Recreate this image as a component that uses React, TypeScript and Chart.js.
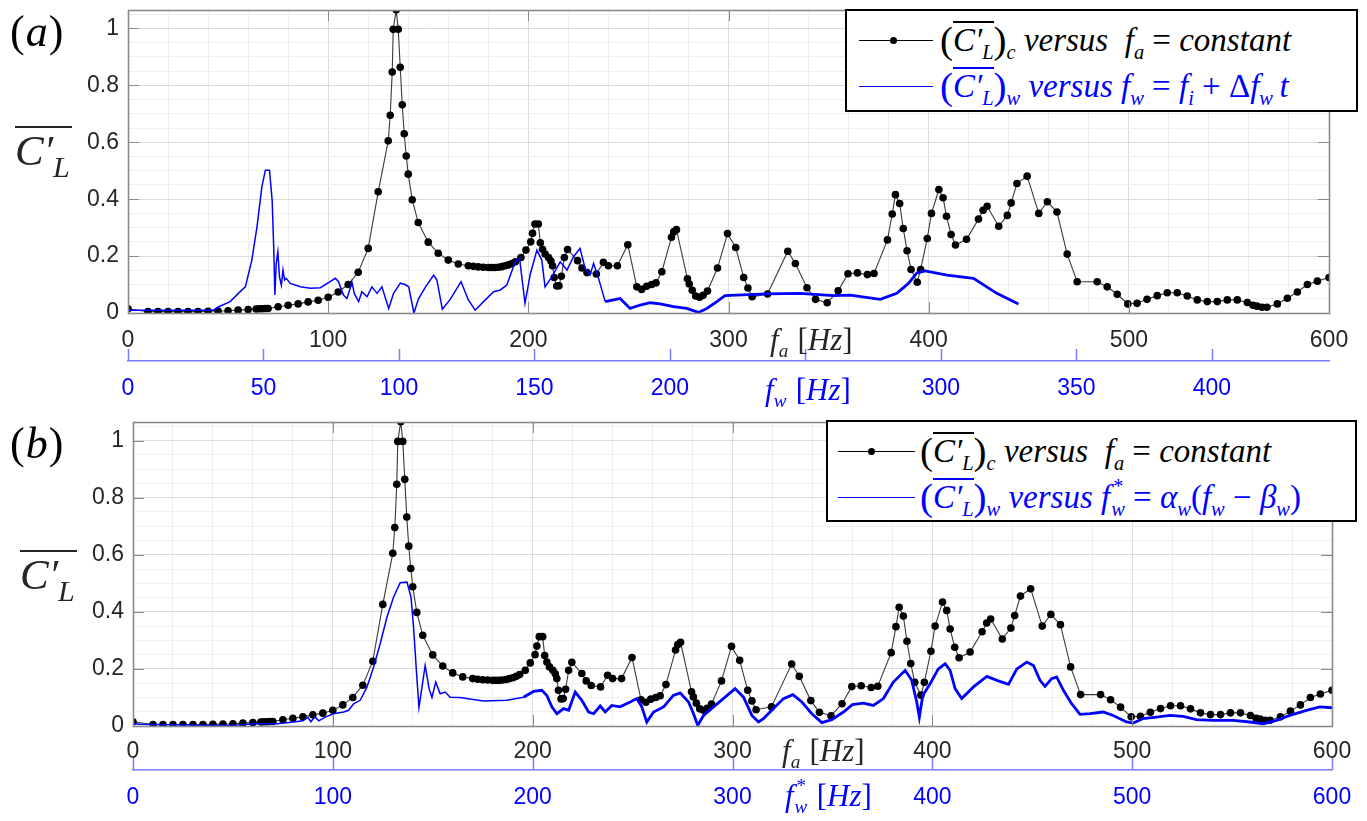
import React, { useEffect, useRef } from "react";
import { Chart, registerables } from "chart.js";
Chart.register(...registerables);

// ---- Black series: (C'_L)_c versus f_a (constant-frequency runs), same in both panels
const FA = [0, 10, 15, 20, 25, 30, 35, 40, 45, 50, 55, 60, 64, 65.5, 67, 68.5, 70, 75, 80, 85, 90, 95, 100, 105, 110, 115, 120, 125, 130, 131, 132, 132.5, 134, 135, 136, 137, 138, 139, 140, 142, 145, 150, 155, 160, 165, 170, 172.5, 175, 177.5, 180, 181.6, 183.3, 185, 186.8, 188.4, 190.1, 191.8, 193.5, 196.3, 198.8, 201.2, 202.1, 203.3, 205, 206, 207.1, 208.4, 210.1, 211.3, 212.1, 212.9, 214.2, 215.3, 216.5, 218, 219.6, 224.6, 226.8, 229.3, 234, 237.5, 240, 244.5, 249.7, 254.2, 256.6, 259.1, 261.6, 263.8, 266.7, 271.5, 272.6, 274, 279.5, 280.4, 281.9, 283.6, 285.5, 287.3, 289.5, 294.5, 299.5, 303.6, 307.6, 309.7, 311.8, 319.5, 329.6, 333.4, 339.2, 343.5, 349.3, 354.8, 359.7, 364.4, 369.4, 372.7, 379.4, 381.8, 383.4, 385.5, 387.3, 389.2, 391.2, 394.3, 396, 399.3, 401.4, 405.1, 407.2, 408.9, 411.2, 413.4, 418.9, 424.9, 427.2, 429.2, 435, 439.3, 441.2, 444.1, 449.2, 455, 459.3, 464.1, 469.2, 474.2, 484.2, 489.2, 494.2, 499.5, 504.1, 509.1, 514.2, 519.2, 524.2, 529.2, 534.2, 539.2, 544.2, 549.2, 554.2, 559.2, 562, 564, 566.5, 569, 574.2, 579.2, 584.2, 589.2, 594.2, 600];
const CL_C = [0.015, 0.005, 0.005, 0.005, 0.005, 0.005, 0.005, 0.006, 0.007, 0.008, 0.01, 0.012, 0.014, 0.015, 0.015, 0.016, 0.016, 0.022, 0.027, 0.032, 0.039, 0.045, 0.055, 0.074, 0.1, 0.143, 0.227, 0.426, 0.605, 0.695, 0.847, 0.997, 1.066, 0.997, 0.864, 0.732, 0.63, 0.552, 0.488, 0.398, 0.318, 0.249, 0.21, 0.186, 0.172, 0.166, 0.164, 0.162, 0.161, 0.16, 0.16, 0.16, 0.161, 0.163, 0.166, 0.169, 0.174, 0.18, 0.195, 0.221, 0.25, 0.28, 0.313, 0.313, 0.247, 0.224, 0.207, 0.195, 0.183, 0.166, 0.125, 0.095, 0.096, 0.129, 0.195, 0.223, 0.184, 0.158, 0.142, 0.137, 0.178, 0.166, 0.166, 0.24, 0.092, 0.083, 0.094, 0.1, 0.106, 0.145, 0.266, 0.285, 0.293, 0.12, 0.102, 0.08, 0.06, 0.055, 0.062, 0.077, 0.158, 0.279, 0.23, 0.125, 0.088, 0.057, 0.067, 0.217, 0.174, 0.089, 0.048, 0.036, 0.078, 0.138, 0.141, 0.135, 0.139, 0.257, 0.348, 0.416, 0.385, 0.297, 0.219, 0.153, 0.108, 0.153, 0.262, 0.35, 0.434, 0.405, 0.34, 0.276, 0.239, 0.259, 0.33, 0.361, 0.375, 0.305, 0.343, 0.387, 0.455, 0.481, 0.35, 0.391, 0.355, 0.207, 0.11, 0.11, 0.092, 0.066, 0.032, 0.034, 0.048, 0.061, 0.071, 0.071, 0.06, 0.046, 0.04, 0.04, 0.046, 0.046, 0.037, 0.027, 0.024, 0.02, 0.02, 0.032, 0.052, 0.074, 0.1, 0.112, 0.125];

// ---- Blue series, panel (a): (C'_L)_w versus f_w (sweep)
const FW_TOP = [0, 31.5, 33.5, 37.7, 41.4, 43.3, 45.7, 47.6, 49.4, 50.7, 52.2, 53.2, 53.8, 54.2, 54.7, 55.3, 55.9, 56.6, 57.2, 57.8, 58.4, 59.9, 63.6, 67.3, 71.0, 74.6, 76.5, 77.7, 79.5, 80.8, 81.8, 82.6, 83.5, 85.1, 86.3, 88.2, 90.0, 91.9, 93.7, 96.2, 98.0, 100.5, 102.3, 103.6, 105.5, 107.2, 109.7, 112.8, 114.0, 116.0, 118.9, 122.9, 125.6, 128.1, 131.2, 134.9, 137.4, 139.8, 142.9, 144.5, 146.5, 148.5, 150.9, 152.7, 153.9, 156.4, 159.5, 162.0, 164.4, 166.8, 168.7, 170.5, 171.8, 173.3, 176.1, 179.2, 181.6, 185.3, 189.0, 192.7, 196.4, 201.3, 206.2, 210.5, 213.6, 217.3, 220.3, 224.7, 235.8, 248.0, 260.4, 266.5, 277.6, 283.7, 288.0, 291.1, 294.2, 302.2, 312.0, 320.6, 328.6];
const CL_W_TOP = [0.01, 0.01, 0.022, 0.04, 0.075, 0.092, 0.186, 0.303, 0.443, 0.502, 0.502, 0.396, 0.221, 0.063, 0.174, 0.215, 0.127, 0.098, 0.151, 0.116, 0.122, 0.104, 0.092, 0.087, 0.089, 0.11, 0.122, 0.11, 0.063, 0.051, 0.081, 0.11, 0.069, 0.04, 0.075, 0.057, 0.092, 0.069, 0.092, 0.016, 0.069, 0.105, 0.1, 0.092, 0.0, 0.05, 0.09, 0.133, 0.116, 0.013, 0.048, 0.11, 0.046, 0.01, 0.04, 0.075, 0.081, 0.098, 0.18, 0.192, 0.034, 0.139, 0.221, 0.186, 0.092, 0.127, 0.18, 0.151, 0.198, 0.227, 0.157, 0.133, 0.174, 0.133, 0.04, 0.046, 0.051, 0.016, 0.028, 0.036, 0.032, 0.022, 0.016, 0.002, 0.016, 0.04, 0.061, 0.063, 0.067, 0.069, 0.061, 0.063, 0.048, 0.069, 0.104, 0.141, 0.148, 0.133, 0.122, 0.069, 0.032];

// ---- Blue series, panel (b): (C'_L)_w versus f*_w (rescaled)
const FWS_BOT = [0, 3.7, 20, 35, 50.3, 60.3, 72, 80.3, 85, 87.5, 89, 91, 93, 96.2, 100.3, 105.4, 107.9, 110.4, 113.7, 117.1, 120.4, 123.7, 127.1, 130.4, 133.7, 137.1, 139.1, 140.4, 141.8, 143.1, 144.6, 146.2, 148.2, 149.6, 151.5, 153.7, 156.2, 158.7, 163.5, 175.4, 187.1, 195.4, 200.4, 204.6, 207.1, 209.6, 212.1, 215.5, 218, 221.3, 224.6, 228, 230.5, 233.8, 236.3, 239.6, 243.7, 248.8, 252.1, 254.6, 257.1, 260.5, 265.5, 270.4, 273.8, 278, 280.5, 282.6, 285.5, 290.5, 296.3, 301.3, 305.5, 309.7, 313, 315.5, 320.5, 325.5, 330.2, 334.7, 339.7, 344.7, 349.7, 355.5, 360, 365.5, 370.5, 375.5, 380.5, 386.4, 389.7, 392.2, 393.5, 395.2, 398.9, 403, 406.4, 408.9, 411.4, 414.7, 420.6, 427.3, 432.3, 438.1, 442.3, 447.3, 450.6, 453.9, 456.4, 459.7, 462.2, 465.6, 469.7, 473.9, 478.9, 485.5, 490.5, 497.2, 500.5, 505.5, 512.2, 518.9, 525.5, 532.2, 540.5, 550.5, 558.9, 565.6, 572.2, 578.9, 587.2, 593.9, 600];
const CL_W_BOT = [0.008, 0.006, 0.004, 0.003, 0.002, 0.008, 0.008, 0.014, 0.018, 0.03, 0.015, 0.032, 0.018, 0.031, 0.043, 0.049, 0.055, 0.078, 0.09, 0.137, 0.207, 0.288, 0.382, 0.452, 0.502, 0.504, 0.452, 0.347, 0.195, 0.065, 0.135, 0.212, 0.13, 0.1, 0.154, 0.113, 0.119, 0.101, 0.1, 0.088, 0.09, 0.101, 0.121, 0.125, 0.107, 0.067, 0.043, 0.061, 0.055, 0.119, 0.09, 0.049, 0.043, 0.07, 0.049, 0.072, 0.067, 0.084, 0.096, 0.067, 0.014, 0.049, 0.067, 0.107, 0.116, 0.084, 0.043, 0.002, 0.037, 0.067, 0.101, 0.131, 0.101, 0.037, 0.014, 0.026, 0.061, 0.096, 0.11, 0.084, 0.043, 0.012, 0.022, 0.049, 0.075, 0.08, 0.072, 0.096, 0.154, 0.195, 0.16, 0.084, 0.031, 0.107, 0.148, 0.2, 0.218, 0.195, 0.131, 0.096, 0.137, 0.174, 0.16, 0.146, 0.2, 0.224, 0.212, 0.16, 0.139, 0.166, 0.172, 0.125, 0.078, 0.041, 0.043, 0.049, 0.037, 0.014, 0.01, 0.026, 0.031, 0.037, 0.034, 0.022, 0.02, 0.02, 0.014, 0.008, 0.02, 0.037, 0.055, 0.067, 0.064];

// ---- Ticks
const Y_GRID = [0, 0.05, 0.1, 0.15, 0.2, 0.25, 0.3, 0.35, 0.4, 0.45, 0.5, 0.55, 0.6, 0.65, 0.7, 0.75, 0.8, 0.85, 0.9, 0.95, 1, 1.05];
const Y_MAJOR = [0, 0.2, 0.4, 0.6, 0.8, 1];
const Y_LABELS = ["0", "0.2", "0.4", "0.6", "0.8", "1"];
const FA_GRID = [0, 20, 40, 60, 80, 100, 120, 140, 160, 180, 200, 220, 240, 260, 280, 300, 320, 340, 360, 380, 400, 420, 440, 460, 480, 500, 520, 540, 560, 580, 600];
const FA_MAJOR = [0, 100, 200, 300, 400, 500, 600];
const FA_LABELS = ["0", "100", "200", "300", "400", "500", "600"];
const FW_MAJOR = [0, 50, 100, 150, 200, 250, 300, 350, 400];
const FW_LABELS = ["0", "50", "100", "150", "200", "", "300", "350", "400"];
const FWS_MAJOR = [0, 100, 200, 300, 400, 500, 600];
const FWS_LABELS = ["0", "100", "200", "300", "400", "500", "600"];

const Y_MAX = 1.065;
const FA_MAX = 600;
const FW_MAX = 443.2;
const FWS_MAX = 600;

const SANS = "'Liberation Sans', Arial, sans-serif";
const SERIF = "'Liberation Serif', 'Times New Roman', serif";
const TICK_FONT = { family: SANS, size: 23 };
const AX_GRAY = "#262626";

function labelFor(v: number, majors: number[], labels: string[]) {
  const i = majors.findIndex((m) => Math.abs(m - v) < 1e-6);
  return i >= 0 ? labels[i] : "";
}
function isMajor(v: number, majors: number[]) {
  return majors.some((m) => Math.abs(m - v) < 1e-6);
}
function pts(xs: number[], ys: number[]) {
  return xs.map((x, i) => ({ x, y: ys[i] }));
}

const framePlugin = {
  id: "frame",
  afterDraw(chart: any, _a: any, opts: any) {
    const { ctx, chartArea: a, scales } = chart;
    ctx.save();
    ctx.strokeStyle = "#8a8a8a";
    ctx.lineWidth = 1;
    const tl = 11;
    ctx.beginPath();
    for (const v of FA_MAJOR) {
      const px = Math.round(scales.x.getPixelForValue(v)) + 0.5;
      ctx.moveTo(px, a.bottom);
      ctx.lineTo(px, a.bottom - tl);
      ctx.moveTo(px, a.top);
      ctx.lineTo(px, a.top + tl);
    }
    for (const v of Y_MAJOR) {
      const py = Math.round(scales.y.getPixelForValue(v)) + 0.5;
      ctx.moveTo(a.left, py);
      ctx.lineTo(a.left + tl, py);
      ctx.moveTo(a.right, py);
      ctx.lineTo(a.right - tl, py);
    }
    ctx.stroke();
    ctx.lineWidth = 1.6;
    ctx.strokeRect(Math.round(a.left) + 0.5, Math.round(a.top) + 0.5, Math.round(a.right - a.left), Math.round(a.bottom - a.top));
    // blue axis ticks pointing up
    const x2 = scales.x2;
    ctx.strokeStyle = "#7b7bff";
    ctx.lineWidth = 1.5;
    ctx.beginPath();
    for (const v of opts.blueTicks || []) {
      const px = Math.round(x2.getPixelForValue(v)) + 0.5;
      ctx.moveTo(px, x2.top);
      ctx.lineTo(px, x2.top - 12);
    }
    ctx.stroke();
    ctx.restore();
  },
};

function zeroPad(s: any) {
  s.paddingTop = 0;
  s.paddingBottom = 0;
  s.paddingLeft = 0;
  s.paddingRight = 0;
}

function panelConfig(p: any): any {
  return {
    type: "scatter",
    data: {
      datasets: [
        {
          label: "w",
          data: p.blue,
          xAxisID: "x2",
          yAxisID: "y",
          showLine: true,
          borderColor: "#0000ff",
          borderWidth: 1.5,
          pointRadius: 0,
          order: 0,
          segment: {
            borderWidth: (c: any) => (c.p0.parsed.x > p.thickFrom ? 2.8 : 1.5),
          },
        },
        {
          label: "c",
          data: p.black,
          xAxisID: "x",
          yAxisID: "y",
          showLine: true,
          borderColor: "#3a3a3a",
          borderWidth: 1.1,
          pointRadius: 3.8,
          pointBackgroundColor: "#000",
          pointBorderColor: "#000",
          pointBorderWidth: 0,
          order: 1,
        },
      ],
    },
    plugins: [framePlugin],
    options: {
      animation: false,
      responsive: false,
      events: [],
      layout: { padding: p.padding },
      plugins: {
        legend: { display: false },
        tooltip: { enabled: false },
        frame: { blueTicks: p.blueMajor },
      },
      scales: {
        x: {
          type: "linear",
          position: "bottom",
          min: 0,
          max: FA_MAX,
          weight: 1,
          afterBuildTicks: (s: any) => {
            s.ticks = FA_GRID.map((v) => ({ value: v }));
          },
          afterFit: (s: any) => {
            s.height = p.xh;
            zeroPad(s);
          },
          ticks: {
            autoSkip: false,
            maxRotation: 0,
            padding: p.xpad,
            color: AX_GRAY,
            font: TICK_FONT,
            callback: (v: number) => labelFor(v, FA_MAJOR, FA_LABELS),
          },
          grid: {
            drawTicks: false,
            color: (c: any) => (c.tick && isMajor(c.tick.value, FA_MAJOR) ? "#dcdcdc" : "#efefef"),
            lineWidth: 1,
          },
          border: { display: false },
        },
        x2: {
          type: "linear",
          position: "bottom",
          min: 0,
          max: p.x2max,
          weight: 2,
          afterBuildTicks: (s: any) => {
            s.ticks = p.blueMajor.map((v: number) => ({ value: v }));
          },
          afterFit: (s: any) => {
            s.height = p.x2h;
            zeroPad(s);
          },
          ticks: {
            autoSkip: false,
            maxRotation: 0,
            padding: p.x2pad,
            color: "#0000ff",
            font: TICK_FONT,
            callback: (v: number) => labelFor(v, p.blueMajor, p.blueLabels),
          },
          grid: { display: true, drawOnChartArea: false, drawTicks: false },
          border: { display: true, color: "#7b7bff", width: 1.5 },
        },
        y: {
          type: "linear",
          position: "left",
          min: 0,
          max: Y_MAX,
          afterBuildTicks: (s: any) => {
            s.ticks = Y_GRID.map((v) => ({ value: v }));
          },
          afterFit: (s: any) => {
            s.width = p.yw;
            zeroPad(s);
          },
          ticks: {
            autoSkip: false,
            padding: 9,
            color: AX_GRAY,
            font: TICK_FONT,
            callback: (v: number) => labelFor(v, Y_MAJOR, Y_LABELS),
          },
          grid: {
            drawTicks: false,
            color: (c: any) => (c.tick && isMajor(c.tick.value, Y_MAJOR) ? "#dcdcdc" : "#efefef"),
            lineWidth: 1,
          },
          border: { display: false },
        },
      },
    },
  };
}

const TOP = {
  black: pts(FA, CL_C),
  blue: pts(FW_TOP, CL_W_TOP),
  padding: { left: 0, right: 38, top: 10, bottom: 0 },
  yw: 128,
  xh: 48,
  x2h: 49,
  xpad: 14,
  x2pad: 14,
  x2max: FW_MAX,
  blueMajor: FW_MAJOR,
  blueLabels: FW_LABELS,
  thickFrom: 175,
};
const BOT = {
  black: pts(FA, CL_C),
  blue: pts(FWS_BOT, CL_W_BOT),
  padding: { left: 0, right: 35, top: 12, bottom: 0 },
  yw: 133,
  xh: 44,
  x2h: 51,
  xpad: 12,
  x2pad: 14,
  x2max: FWS_MAX,
  blueMajor: FWS_MAJOR,
  blueLabels: FWS_LABELS,
  thickFrom: 195,
};

const sub = (t: string, extra: any = {}) => (
  <span style={{ fontSize: "0.62em", verticalAlign: "-0.38em", lineHeight: 0, ...extra }}>{t}</span>
);
const up = (t: string, extra: any = {}) => <span style={{ fontStyle: "normal", ...extra }}>{t}</span>;
const op = (t: string) => <span style={{ fontStyle: "normal", margin: "0 0.25em" }}>{t}</span>;

function FStarW() {
  return (
    <span style={{ whiteSpace: "nowrap" }}>
      f
      <span style={{ display: "inline-block", position: "relative", fontSize: "0.62em", lineHeight: 0, marginLeft: "0.05em" }}>
        <span style={{ position: "absolute", left: "0.05em", top: "-0.75em" }}>*</span>
        <span style={{ position: "relative", top: "0.38em" }}>w</span>
      </span>
    </span>
  );
}

function CLbar({ s }: { s: string }) {
  return (
    <span style={{ whiteSpace: "nowrap" }}>
      {up("(", { fontSize: "1.18em", verticalAlign: "-0.06em" })}
      <span style={{ display: "inline-block", borderTop: "2px solid currentColor", lineHeight: "1em", paddingTop: 1 }}>
        C′{sub("L")}
      </span>
      {up(")", { fontSize: "1.18em", verticalAlign: "-0.06em" })}
      {sub(s)}
    </span>
  );
}

function LegendBox(props: any) {
  const { left, top, width, height, rows, lineX0, lineX1, markX, textX } = props;
  return (
    <div
      style={{
        position: "absolute",
        left,
        top,
        width,
        height,
        border: "2px solid #000",
        background: "#fff",
        boxSizing: "border-box",
      }}
    >
      {rows.map((r: any, i: number) => (
        <div key={i}>
          <div
            style={{
              position: "absolute",
              left: lineX0 - left,
              top: r.y - top - 2,
              width: lineX1 - lineX0,
              height: 1.2,
              background: r.color,
            }}
          />
          {r.marker ? (
            <div
              style={{
                position: "absolute",
                left: markX - left - 4,
                top: r.y - top - 5.5,
                width: 7,
                height: 7,
                borderRadius: "50%",
                background: "#000",
              }}
            />
          ) : null}
          <div
            style={{
              position: "absolute",
              left: textX - left,
              top: r.y - top - 22,
              height: 40,
              lineHeight: "40px",
              whiteSpace: "nowrap",
              fontFamily: SERIF,
              fontStyle: "italic",
              fontSize: 33,
              color: r.color,
            }}
          >
            {r.content}
          </div>
        </div>
      ))}
    </div>
  );
}

function AxisLabel({ left, top, color, children }: any) {
  return (
    <div
      style={{
        position: "absolute",
        left,
        top,
        lineHeight: "34px",
        fontFamily: SERIF,
        fontStyle: "italic",
        fontSize: 31,
        color,
        whiteSpace: "nowrap",
      }}
    >
      {children}
    </div>
  );
}

function YLabel({ left, top }: any) {
  return (
    <div
      style={{
        position: "absolute",
        left,
        top,
        fontFamily: SERIF,
        fontStyle: "italic",
        fontSize: 43,
        color: AX_GRAY,
        lineHeight: "42px",
      }}
    >
      <span style={{ display: "inline-block", borderTop: "2.5px solid " + AX_GRAY, paddingTop: 2, paddingRight: 2 }}>
        C′{sub("L", { fontSize: "0.7em", verticalAlign: "-0.4em" })}
      </span>
    </div>
  );
}

function PanelTag({ left, top, letter }: any) {
  return (
    <div
      style={{
        position: "absolute",
        left,
        top,
        fontFamily: SERIF,
        fontSize: 44,
        lineHeight: "46px",
        color: "#000",
        letterSpacing: 1,
      }}
    >
      (<span style={{ fontStyle: "italic" }}>{letter}</span>)
    </div>
  );
}

export default function App() {
  const topRef = useRef<HTMLCanvasElement>(null);
  const botRef = useRef<HTMLCanvasElement>(null);
  useEffect(() => {
    const c1 = new Chart(topRef.current as HTMLCanvasElement, panelConfig(TOP));
    const c2 = new Chart(botRef.current as HTMLCanvasElement, panelConfig(BOT));
    return () => {
      c1.destroy();
      c2.destroy();
    };
  }, []);

  const hz = (
    <span style={{ marginLeft: "0.3em" }}>
      {up("[")}Hz{up("]")}
    </span>
  );

  return (
    <div style={{ position: "absolute", left: 0, top: 0, width: 1367, height: 821, background: "#fff", overflow: "hidden" }}>
      <canvas ref={topRef} width={1367} height={410} style={{ position: "absolute", left: 0, top: 0, width: 1367, height: 410 }} />
      <canvas ref={botRef} width={1367} height={411} style={{ position: "absolute", left: 0, top: 410, width: 1367, height: 411 }} />

      <PanelTag left={10} top={9} letter="a" />
      <PanelTag left={10} top={421} letter="b" />
      <YLabel left={15} top={126} />
      <YLabel left={20} top={550} />

      <AxisLabel left={770} top={323} color={AX_GRAY}>
        f{sub("a")}
        {hz}
      </AxisLabel>
      <AxisLabel left={765} top={373} color="#0000ff">
        f{sub("w")}
        {hz}
      </AxisLabel>
      <AxisLabel left={782} top={734} color={AX_GRAY}>
        f{sub("a")}
        {hz}
      </AxisLabel>
      <AxisLabel left={785} top={779} color="#0000ff">
        <FStarW />
        {hz}
      </AxisLabel>

      <LegendBox
        left={845}
        top={9}
        width={513}
        height={103}
        lineX0={857}
        lineX1={931}
        markX={892}
        textX={938}
        rows={[
          {
            y: 40,
            color: "#000",
            marker: true,
            content: (
              <>
                <CLbar s="c" /> versus&nbsp; f{sub("a")}
                {op("=")}constant
              </>
            ),
          },
          {
            y: 86,
            color: "#0000ff",
            marker: false,
            content: (
              <>
                <CLbar s="w" /> versus f{sub("w")}
                {op("=")}f{sub("i")}
                {op("+")}
                {up("Δ")}f{sub("w")}&thinsp;t
              </>
            ),
          },
        ]}
      />
      <LegendBox
        left={826}
        top={420}
        width={531}
        height={102}
        lineX0={836}
        lineX1={913}
        markX={870}
        textX={918}
        rows={[
          {
            y: 451,
            color: "#000",
            marker: true,
            content: (
              <>
                <CLbar s="c" /> versus&nbsp; f{sub("a")}
                {op("=")}constant
              </>
            ),
          },
          {
            y: 497,
            color: "#0000ff",
            marker: false,
            content: (
              <>
                <CLbar s="w" /> versus <FStarW />
                {op("=")}α{sub("w")}
                {up("(")}f{sub("w")}
                {op("−")}β{sub("w")}
                {up(")")}
              </>
            ),
          },
        ]}
      />
    </div>
  );
}
